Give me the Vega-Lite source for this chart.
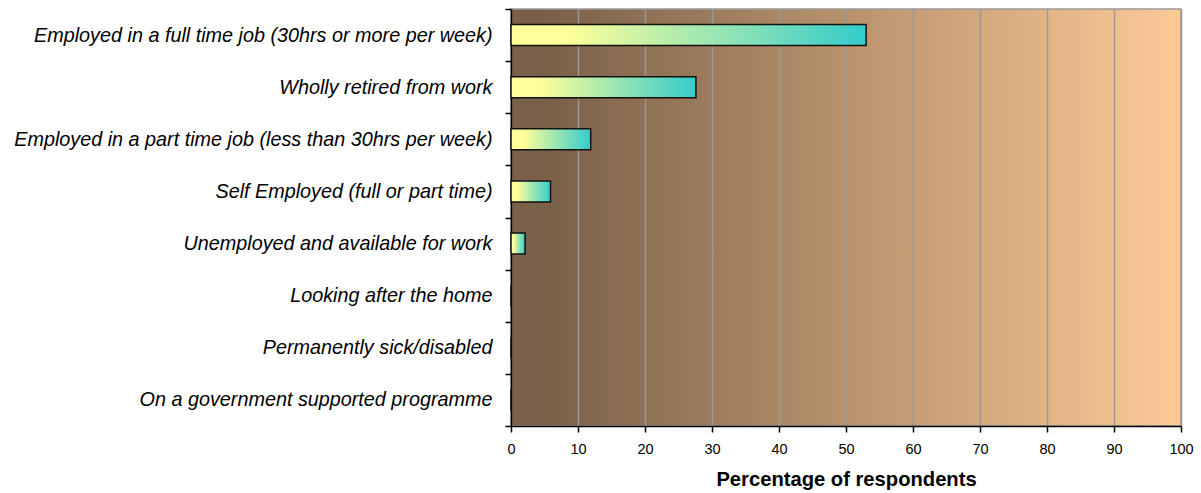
{
  "$schema": "https://vega.github.io/schema/vega-lite/v6.json",
  "width": 670,
  "height": 417,
  "autosize": {"type": "none"},
  "padding": {"left": 511, "top": 9, "right": 20, "bottom": 67},
  "background": "white",
  "config": {
    "view": {
      "stroke": "#999999",
      "strokeWidth": 1.5,
      "fill": {
        "gradient": "linear",
        "x1": 0, "x2": 1, "y1": 0, "y2": 0,
        "stops": [
          {"offset": 0, "color": "#7a6048"},
          {"offset": 0.05, "color": "#7a6048"},
          {"offset": 1, "color": "#fdca97"}
        ]
      }
    },
    "font": "Liberation Sans"
  },
  "data": {
    "values": [
      {"status": "Employed in a full time job (30hrs or more per week)", "pct": 53},
      {"status": "Wholly retired from work", "pct": 27.6},
      {"status": "Employed in a part time job (less than 30hrs per week)", "pct": 11.9},
      {"status": "Self Employed (full or part time)", "pct": 5.9},
      {"status": "Unemployed and available for work", "pct": 2.1},
      {"status": "Looking after the home", "pct": 0},
      {"status": "Permanently sick/disabled", "pct": 0},
      {"status": "On a government supported programme", "pct": 0}
    ]
  },
  "mark": {
    "type": "bar",
    "size": 21,
    "stroke": "#111111",
    "strokeWidth": 1.5,
    "color": {
      "gradient": "linear",
      "x1": 0, "x2": 1, "y1": 0, "y2": 0,
      "stops": [
        {"offset": 0, "color": "#ffff99"},
        {"offset": 0.15, "color": "#ffff99"},
        {"offset": 1, "color": "#33cccc"}
      ]
    }
  },
  "encoding": {
    "y": {
      "field": "status",
      "type": "nominal",
      "sort": null,
      "scale": {"paddingInner": 0, "paddingOuter": 0},
      "axis": {
        "title": null,
        "domainColor": "#000000",
        "domainWidth": 1.5,
        "tickColor": "#000000",
        "tickWidth": 1.5,
        "tickSize": 6,
        "tickBand": "extent",
        "labelPadding": 13,
        "labelFont": "Liberation Sans",
        "labelFontStyle": "italic",
        "labelFontSize": 19.8,
        "labelColor": "#000000",
        "labelLimit": 600
      }
    },
    "x": {
      "field": "pct",
      "type": "quantitative",
      "scale": {"domain": [0, 100], "nice": false},
      "axis": {
        "title": "Percentage of respondents",
        "values": [0, 10, 20, 30, 40, 50, 60, 70, 80, 90, 100],
        "grid": true,
        "gridColor": "#999999",
        "gridWidth": 1.5,
        "domainColor": "#000000",
        "domainWidth": 1.5,
        "tickColor": "#000000",
        "tickWidth": 1.5,
        "tickSize": 6,
        "labelFlush": false,
        "labelPadding": 10,
        "labelFont": "Liberation Sans",
        "labelFontSize": 14.5,
        "labelColor": "#000000",
        "titleFont": "Liberation Sans",
        "titleFontSize": 20.2,
        "titleFontWeight": "bold",
        "titleColor": "#000000",
        "titlePadding": 14
      }
    }
  }
}
